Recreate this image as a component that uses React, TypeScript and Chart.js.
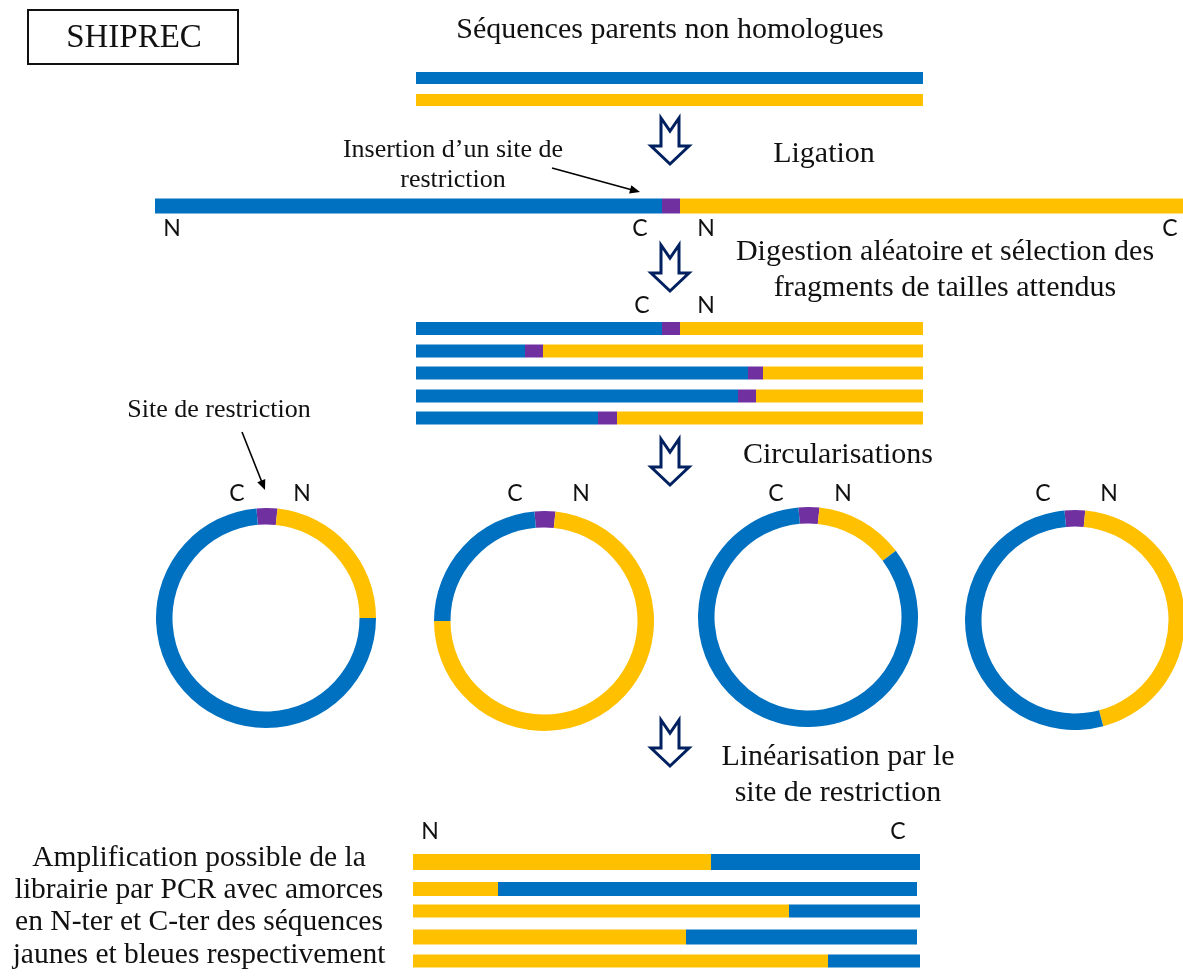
import React, { useEffect, useRef } from "react";
import { Chart, registerables } from "chart.js";

Chart.register(...registerables);

// ---------- colours ----------
const BLUE = "#0070C0";
const YELLOW = "#FFC000";
const PURPLE = "#7030A0";
const NAVY = "#002060";

// ---------- data (sequence positions on the diagram axis) ----------
const PARENT_SPAN = [416, 923];
const LIGATION_BREAKS = [155, 662, 680, 1183]; // blue | site | yellow
const FRAGMENT_SPAN = [416, 923];
const FRAGMENT_SITE_START = [662, 525, 748, 738, 598];
const FRAGMENT_SITE_END = [680, 543, 763, 756, 617];
const RING_SITE = [11, 11, 11, 11];
const RING_YELLOW = [84, 264, 47, 162];
const RING_BLUE = [265, 85, 302, 192];
const RING_ROTATION = [-5, -5, -5, -5.5];
const LINEAR_START = 413;
const LINEAR_JUNCTION = [711, 498, 789, 686, 828];
const LINEAR_END = [920, 917, 920, 917, 920];

// ---------- layout ----------
const W = 1183;
const H = 976;
const PARENT_ROWS = [78, 100];
const LIGATION_ROW = 206;
const FRAGMENT_ROWS = [328.5, 351, 373, 396, 418];
const LINEAR_ROWS = [862, 889, 911, 937, 961];
const LINEAR_THICK = [16, 14, 13, 15, 13];
const RING_CENTERS = [
  [266, 618],
  [544, 621],
  [808, 617],
  [1075, 620],
];
const RING_R = 110;

const SERIF = '"Liberation Serif", "Times New Roman", serif';
const SANS = 'Lato, "Open Sans", sans-serif';

type Txt = { t: string; x: number; y: number; s: number; f: string };
const TEXTS: Txt[] = [
  { t: "SHIPREC", x: 134, y: 38, s: 33, f: SERIF },
  { t: "Séquences parents non homologues", x: 670, y: 30, s: 30, f: SERIF },
  { t: "Ligation", x: 824, y: 154, s: 30, f: SERIF },
  { t: "Insertion d’un site de", x: 453, y: 150, s: 26, f: SERIF },
  { t: "restriction", x: 453, y: 180, s: 26, f: SERIF },
  { t: "Digestion aléatoire et sélection des", x: 945, y: 252, s: 30, f: SERIF },
  { t: "fragments de tailles attendus", x: 945, y: 288, s: 30, f: SERIF },
  { t: "Site de restriction", x: 219, y: 410, s: 26, f: SERIF },
  { t: "Circularisations", x: 838, y: 455, s: 30, f: SERIF },
  { t: "Linéarisation par le", x: 838, y: 757, s: 30, f: SERIF },
  { t: "site de restriction", x: 838, y: 793, s: 30, f: SERIF },
  { t: "Amplification possible de la", x: 199, y: 858, s: 29.5, f: SERIF },
  { t: "librairie par PCR avec amorces", x: 199, y: 890, s: 29.5, f: SERIF },
  { t: "en N-ter et C-ter des séquences", x: 199, y: 922, s: 29.5, f: SERIF },
  { t: "jaunes et bleues respectivement", x: 199, y: 955, s: 29.5, f: SERIF },
  // terminal labels
  { t: "N", x: 172, y: 229, s: 23, f: SANS },
  { t: "C", x: 640, y: 229, s: 23, f: SANS },
  { t: "N", x: 706, y: 229, s: 23, f: SANS },
  { t: "C", x: 1170, y: 229, s: 23, f: SANS },
  { t: "C", x: 642, y: 306, s: 23, f: SANS },
  { t: "N", x: 706, y: 306, s: 23, f: SANS },
  { t: "C", x: 237, y: 494, s: 23, f: SANS },
  { t: "N", x: 302, y: 494, s: 23, f: SANS },
  { t: "C", x: 515, y: 494, s: 23, f: SANS },
  { t: "N", x: 581, y: 494, s: 23, f: SANS },
  { t: "C", x: 776, y: 494, s: 23, f: SANS },
  { t: "N", x: 843, y: 494, s: 23, f: SANS },
  { t: "C", x: 1043, y: 494, s: 23, f: SANS },
  { t: "N", x: 1109, y: 494, s: 23, f: SANS },
  { t: "N", x: 430, y: 832, s: 23, f: SANS },
  { t: "C", x: 898, y: 832, s: 23, f: SANS },
];

const HOLLOW_ARROWS = [
  [670, 118],
  [670, 245],
  [670, 439],
  [670, 720],
];
const POINTERS = [
  [552, 168, 640, 192],
  [242, 432, 265, 490],
];

function seg(x0: number, x1: number, y: number, color: string, width: number) {
  return {
    type: "line" as const,
    data: [
      { x: x0, y },
      { x: x1, y },
    ],
    borderColor: color,
    backgroundColor: color,
    borderWidth: width,
    borderCapStyle: "butt" as const,
    pointRadius: 0,
    fill: false,
    tension: 0,
  };
}

function buildDatasets() {
  const ds: any[] = [];
  ds.push(seg(PARENT_SPAN[0], PARENT_SPAN[1], PARENT_ROWS[0], BLUE, 12));
  ds.push(seg(PARENT_SPAN[0], PARENT_SPAN[1], PARENT_ROWS[1], YELLOW, 12));
  ds.push(seg(LIGATION_BREAKS[0], LIGATION_BREAKS[1], LIGATION_ROW, BLUE, 15));
  ds.push(seg(LIGATION_BREAKS[1], LIGATION_BREAKS[2], LIGATION_ROW, PURPLE, 15));
  ds.push(seg(LIGATION_BREAKS[2], LIGATION_BREAKS[3], LIGATION_ROW, YELLOW, 15));
  FRAGMENT_ROWS.forEach((y, i) => {
    ds.push(seg(FRAGMENT_SPAN[0], FRAGMENT_SITE_START[i], y, BLUE, 13));
    ds.push(seg(FRAGMENT_SITE_START[i], FRAGMENT_SITE_END[i], y, PURPLE, 13));
    ds.push(seg(FRAGMENT_SITE_END[i], FRAGMENT_SPAN[1], y, YELLOW, 13));
  });
  LINEAR_ROWS.forEach((y, i) => {
    ds.push(seg(LINEAR_START, LINEAR_JUNCTION[i], y, YELLOW, LINEAR_THICK[i]));
    ds.push(seg(LINEAR_JUNCTION[i], LINEAR_END[i], y, BLUE, LINEAR_THICK[i]));
  });
  return ds;
}

const decorPlugin = {
  id: "decor",
  afterDatasetsDraw(chart: any) {
    const { ctx, scales } = chart;
    const px = (v: number) => scales.x.getPixelForValue(v);
    const py = (v: number) => scales.y.getPixelForValue(v);
    ctx.save();
    // title box
    ctx.strokeStyle = "#111";
    ctx.lineWidth = 2;
    ctx.strokeRect(px(28), py(10), px(238) - px(28), py(64) - py(10));
    // texts
    ctx.fillStyle = "#111";
    ctx.textAlign = "center";
    ctx.textBaseline = "middle";
    TEXTS.forEach((t) => {
      ctx.font = `${t.s}px ${t.f}`;
      ctx.fillText(t.t, px(t.x), py(t.y));
    });
    // hollow arrows
    HOLLOW_ARROWS.forEach(([cx, top]) => {
      const x = px(cx);
      const y = py(top);
      ctx.beginPath();
      ctx.moveTo(x - 9, y);
      ctx.lineTo(x, y + 13);
      ctx.lineTo(x + 9, y);
      ctx.lineTo(x + 9, y + 28);
      ctx.lineTo(x + 19, y + 28);
      ctx.lineTo(x, y + 46);
      ctx.lineTo(x - 19, y + 28);
      ctx.lineTo(x - 9, y + 28);
      ctx.closePath();
      ctx.fillStyle = "#fff";
      ctx.fill();
      ctx.strokeStyle = NAVY;
      ctx.lineWidth = 3;
      ctx.lineJoin = "miter";
      ctx.stroke();
    });
    // pointer arrows
    POINTERS.forEach(([x0, y0, x1, y1]) => {
      const a = px(x0), b = py(y0), c = px(x1), d = py(y1);
      const ang = Math.atan2(d - b, c - a);
      const hl = 11;
      ctx.strokeStyle = "#000";
      ctx.fillStyle = "#000";
      ctx.lineWidth = 1.6;
      ctx.beginPath();
      ctx.moveTo(a, b);
      ctx.lineTo(c - Math.cos(ang) * hl * 0.8, d - Math.sin(ang) * hl * 0.8);
      ctx.stroke();
      ctx.beginPath();
      ctx.moveTo(c, d);
      ctx.lineTo(c - hl * Math.cos(ang - 0.4), d - hl * Math.sin(ang - 0.4));
      ctx.lineTo(c - hl * Math.cos(ang + 0.4), d - hl * Math.sin(ang + 0.4));
      ctx.closePath();
      ctx.fill();
    });
    ctx.restore();
  },
};

export default function App() {
  const mainRef = useRef<HTMLCanvasElement>(null);
  const ringRefs = useRef<(HTMLCanvasElement | null)[]>([]);

  useEffect(() => {
    const charts: Chart[] = [];
    if (mainRef.current) {
      charts.push(
        new Chart(mainRef.current, {
          type: "line",
          data: { datasets: buildDatasets() },
          options: {
            responsive: false,
            animation: false,
            events: [],
            layout: { padding: 0 },
            scales: {
              x: { type: "linear", min: 0, max: W, display: false },
              y: { type: "linear", min: 0, max: H, reverse: true, display: false },
            },
            plugins: { legend: { display: false }, tooltip: { enabled: false } },
          },
          plugins: [decorPlugin],
        } as any)
      );
    }
    RING_CENTERS.forEach((_, i) => {
      const el = ringRefs.current[i];
      if (!el) return;
      charts.push(
        new Chart(el, {
          type: "doughnut",
          data: {
            labels: ["site", "jaune", "bleu"],
            datasets: [
              {
                data: [RING_SITE[i], RING_YELLOW[i], RING_BLUE[i]],
                backgroundColor: [PURPLE, YELLOW, BLUE],
                borderWidth: 0,
              },
            ],
          },
          options: {
            responsive: false,
            animation: false,
            events: [],
            rotation: RING_ROTATION[i],
            cutout: "85%",
            layout: { padding: 0 },
            plugins: { legend: { display: false }, tooltip: { enabled: false } },
          },
        } as any)
      );
    });
    return () => charts.forEach((c) => c.destroy());
  }, []);

  return (
    <div
      style={{
        position: "absolute",
        left: 0,
        top: 0,
        width: W,
        height: H,
        overflow: "hidden",
        background: "#fff",
      }}
    >
      <canvas
        ref={mainRef}
        width={W}
        height={H}
        style={{ position: "absolute", left: 0, top: 0 }}
      />
      {RING_CENTERS.map((c, i) => (
        <canvas
          key={i}
          ref={(el) => {
            ringRefs.current[i] = el;
          }}
          width={RING_R * 2}
          height={RING_R * 2}
          style={{ position: "absolute", left: c[0] - RING_R, top: c[1] - RING_R }}
        />
      ))}
    </div>
  );
}
